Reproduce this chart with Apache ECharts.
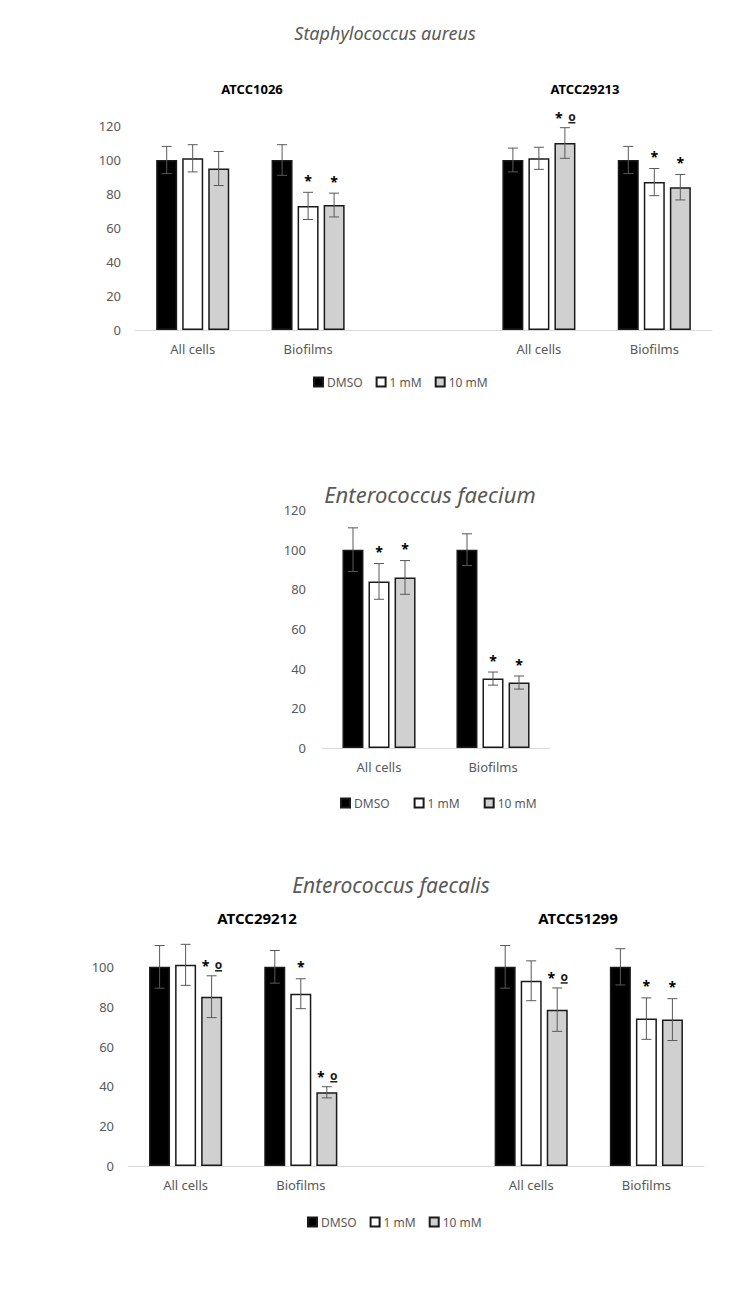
<!DOCTYPE html>
<html><head><meta charset="utf-8">
<script src="https://cdn.jsdelivr.net/npm/echarts@6/dist/echarts.min.js"></script>
<style>html,body{margin:0;padding:0;background:#fff}#c{width:754px;height:1291px}</style>
</head><body><div id="c"></div>
<script>
// ---- data ----
const seriesNames = ['DMSO', '1 mM', '10 mM'];
const yTicks = [0, 20, 40, 60, 80, 100, 120];

// Staphylococcus aureus (ATCC1026 | ATCC29213)
const saCategories = ['All cells', 'Biofilms', '', 'All cells', 'Biofilms'];
const saDMSO      = [100, 100, '-', 100, 100];
const saDMSOErr   = [8, 9, '-', 7, 8];
const sa1mM       = [101, 73, '-', 101, 87];
const sa1mMErr    = [8, 8, '-', 6.5, 8];
const sa10mM      = [95, 73.5, '-', 110, 84];
const sa10mMErr   = [10, 7, '-', 9, 7.5];
const saNotes1mM  = ['', '*', '', '', '*'];
const saNotes10mM = ['', '*', '', '* º', '*'];

// Enterococcus faecium
const efmCategories = ['All cells', 'Biofilms'];
const efmDMSO      = [100, 100];
const efmDMSOErr   = [11, 8];
const efm1mM       = [84, 35];
const efm1mMErr    = [9, 3.3];
const efm10mM      = [86, 33];
const efm10mMErr   = [8.5, 3.3];
const efmNotes1mM  = ['*', '*'];
const efmNotes10mM = ['*', '*'];

// Enterococcus faecalis (ATCC29212 | ATCC51299)
const efsCategories = ['All cells', 'Biofilms', '', 'All cells', 'Biofilms'];
const efsDMSO      = [100, 100, '-', 100, 100];
const efsDMSOErr   = [10.7, 8.2, '-', 10.7, 9.1];
const efs1mM       = [101, 86.5, '-', 93, 74];
const efs1mMErr    = [10.3, 7.5, '-', 10, 10.4];
const efs10mM      = [85, 37, '-', 78.5, 73.5];
const efs10mMErr   = [10.5, 2.8, '-', 10.9, 10.5];
const efsNotes1mM  = ['', '*', '', '', '*'];
const efsNotes10mM = ['* º', '* º', '', '* º', '*'];

// ---- styling ----
const FONT = '"Noto Sans", "DejaVu Sans", sans-serif';
const GREY = '#595959';
const fills = ['#000000', '#ffffff', '#d0d0d0'];
const BAR_W = 21;
const PITCH = 26;

const grids = [
  {left: 135, top: 126, width: 577, height: 204},
  {left: 322, top: 510, width: 228, height: 238},
  {left: 128, top: 927, width: 576, height: 239}
];

function xAxis(gi, cats) {
  return {type: 'category', gridIndex: gi, data: cats,
    axisLine: {lineStyle: {color: '#d9d9d9', width: 1}}, axisTick: {show: false},
    axisLabel: {color: GREY, fontSize: 13, fontFamily: FONT, margin: 12, interval: 0}};
}
function yAxis(gi, margin, hideMax) {
  return {type: 'value', gridIndex: gi, min: yTicks[0], max: yTicks[yTicks.length - 1], interval: 20,
    axisLine: {show: false}, axisTick: {show: false}, splitLine: {show: false},
    axisLabel: {color: GREY, fontSize: 13, fontFamily: FONT, margin: margin, showMaxLabel: !hideMax}};
}

function barSeries(gi, vals) {
  return vals.map((v, s) => ({
    name: seriesNames[s], type: 'bar', xAxisIndex: gi, yAxisIndex: gi,
    data: v, barWidth: BAR_W, barGap: '24%',
    itemStyle: {color: fills[s], borderColor: '#1a1a1a', borderWidth: 1.5},
    emphasis: {disabled: true}
  }));
}

function errSeries(gi, cats, vals, errs, notes) {
  const data = [], labels = [];
  for (let s = 0; s < 3; s++) {
    for (let i = 0; i < cats.length; i++) {
      const v = vals[s][i];
      if (v === '-') continue;
      data.push([i, v - errs[s][i], v + errs[s][i], s]);
      labels.push(notes[s] ? notes[s][i] : '');
    }
  }
  return {
    type: 'custom', xAxisIndex: gi, yAxisIndex: gi, z: 5, silent: true, data: data,
    encode: {x: 0, y: [1, 2]},
    renderItem: function (params, api) {
      const i = api.value(0), s = api.value(3);
      const top = api.coord([i, api.value(2)]);
      const bot = api.coord([i, api.value(1)]);
      const x = top[0] + (s - 1) * PITCH;
      const st = {stroke: GREY, lineWidth: 1};
      const ch = [
        {type: 'line', shape: {x1: x, y1: top[1], x2: x, y2: bot[1]}, style: st},
        {type: 'line', shape: {x1: x - 5, y1: top[1], x2: x + 5, y2: top[1]}, style: st},
        {type: 'line', shape: {x1: x - 5, y1: bot[1], x2: x + 5, y2: bot[1]}, style: st}
      ];
      const t = labels[params.dataIndex];
      if (t === '*') {
        ch.push({type: 'text', x: x, y: top[1] - 5,
          style: {text: '*', textAlign: 'center', textVerticalAlign: 'bottom',
            font: 'bold 14px ' + FONT, fill: '#000'}});
      } else if (t) {
        ch.push({type: 'text', x: x - 6, y: top[1] - 3,
          style: {text: '*', textAlign: 'center', textVerticalAlign: 'bottom',
            font: 'bold 14px ' + FONT, fill: '#000'}});
        ch.push({type: 'text', x: x + 7, y: top[1] - 11,
          style: {text: 'o', textAlign: 'center', textVerticalAlign: 'middle',
            font: 'bold 12px ' + FONT, fill: '#1a1a1a'}});
        ch.push({type: 'line', shape: {x1: x + 3.5, y1: top[1] - 5, x2: x + 10.5, y2: top[1] - 5},
          style: {stroke: '#1a1a1a', lineWidth: 1.5}});
      }
      return {type: 'group', children: ch};
    }
  };
}

function legend(left, top, gap) {
  return {data: seriesNames, left: left, top: top, icon: 'rect', itemWidth: 9, itemHeight: 9,
    itemGap: gap, selectedMode: false,
    textStyle: {color: GREY, fontSize: 12, fontFamily: FONT, padding: [0, 0, 0, -1]}};
}

function txt(x, y, text, font, fill) {
  return {type: 'text', x: x, y: y, silent: true,
    style: {text: text, font: font, fill: fill, textAlign: 'center', textVerticalAlign: 'middle'}};
}

const option = {
  animation: false,
  backgroundColor: '#fff',
  grid: grids,
  xAxis: [xAxis(0, saCategories), xAxis(1, efmCategories), xAxis(2, efsCategories)],
  yAxis: [yAxis(0, 14, false), yAxis(1, 16, false), yAxis(2, 14, true)],
  legend: [legend(308, 371, 13), legend(335, 792, 24), legend(302, 1211, 13)],
  graphic: [
    txt(385, 33, 'Staphylococcus aureus', 'italic 18px ' + FONT, GREY),
    txt(252, 89, 'ATCC1026', 'bold 13px ' + FONT, '#000'),
    txt(585, 89, 'ATCC29213', 'bold 13px ' + FONT, '#000'),
    txt(430, 494, 'Enterococcus faecium', 'italic 22px ' + FONT, GREY),
    txt(391, 885, 'Enterococcus faecalis', 'italic 21px ' + FONT, GREY),
    txt(257, 918, 'ATCC29212', 'bold 15px ' + FONT, '#000'),
    txt(578, 918, 'ATCC51299', 'bold 15px ' + FONT, '#000')
  ],
  series: [].concat(
    barSeries(0, [saDMSO, sa1mM, sa10mM]),
    [errSeries(0, saCategories, [saDMSO, sa1mM, sa10mM], [saDMSOErr, sa1mMErr, sa10mMErr], [null, saNotes1mM, saNotes10mM])],
    barSeries(1, [efmDMSO, efm1mM, efm10mM]),
    [errSeries(1, efmCategories, [efmDMSO, efm1mM, efm10mM], [efmDMSOErr, efm1mMErr, efm10mMErr], [null, efmNotes1mM, efmNotes10mM])],
    barSeries(2, [efsDMSO, efs1mM, efs10mM]),
    [errSeries(2, efsCategories, [efsDMSO, efs1mM, efs10mM], [efsDMSOErr, efs1mMErr, efs10mMErr], [null, efsNotes1mM, efsNotes10mM])]
  )
};

const chart = echarts.init(document.getElementById('c'), null, {renderer: 'svg'});
chart.setOption(option);
</script>
</body></html>
